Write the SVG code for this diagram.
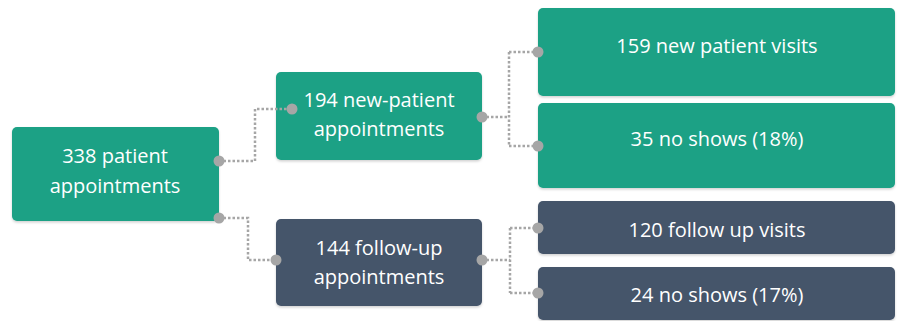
<svg xmlns="http://www.w3.org/2000/svg" width="899" height="321" viewBox="0 0 899 321">
<defs>
<filter id="sh" x="-5%" y="-5%" width="110%" height="115%">
<feDropShadow dx="0" dy="1.5" stdDeviation="1.2" flood-color="#000" flood-opacity="0.18"/>
</filter>
</defs>
<style>
.g{fill:#1ba185;filter:url(#sh)}
.d{fill:#44546a;filter:url(#sh)}
text{font-family:"Open Sans","Noto Sans",sans-serif;font-size:20px;fill:#ffffff;text-anchor:middle}
.c{fill:none;stroke:#a6a6a6;stroke-width:2.5;stroke-dasharray:2.5 2}
.p{fill:#a6a6a6}
</style>
<rect width="899" height="321" fill="#ffffff"/>
<g id="n1"><rect class="g" x="12" y="127" width="207" height="94" rx="5"/><text x="115" y="163">338 patient</text><text x="115" y="193">appointments</text></g>
<g id="n2"><rect class="g" x="276" y="72" width="206" height="88" rx="5"/><text x="379" y="107">194 new-patient</text><text x="379" y="136">appointments</text></g>
<g id="n3"><rect class="d" x="276" y="219" width="206" height="87" rx="5"/><text x="379" y="255">144 follow-up</text><text x="379" y="284">appointments</text></g>
<g id="n4"><rect class="g" x="538" y="8" width="357" height="88" rx="5"/><text x="717" y="53">159 new patient visits</text></g>
<g id="n5"><rect class="g" x="538" y="103" width="357" height="85" rx="5"/><text x="717" y="146">35 no shows (18%)</text></g>
<g id="n6"><rect class="d" x="538" y="201" width="357" height="53" rx="5"/><text x="717" y="237">120 follow up visits</text></g>
<g id="n7"><rect class="d" x="538" y="267" width="357" height="53" rx="5"/><text x="717" y="302">24 no shows (17%)</text></g>
<g id="connectors">
<path class="c" d="M219 161 H255 V109 H292"/>
<path class="c" d="M219 218 H248 V260 H276"/>
<path class="c" d="M482 117 H509 M509 52 V146 M509 52 H538 M509 146 H538"/>
<path class="c" d="M482 260 H510 M510 228 V293 M510 228 H538 M510 293 H538"/>
<circle class="p" cx="219" cy="161" r="5.5"/>
<circle class="p" cx="219" cy="218" r="5.5"/>
<circle class="p" cx="292" cy="109" r="5.5"/>
<circle class="p" cx="276" cy="260" r="5.5"/>
<circle class="p" cx="482" cy="117" r="5.5"/>
<circle class="p" cx="482" cy="260" r="5.5"/>
<circle class="p" cx="538" cy="52" r="5.5"/>
<circle class="p" cx="538" cy="146" r="5.5"/>
<circle class="p" cx="538" cy="228" r="5.5"/>
<circle class="p" cx="538" cy="293" r="5.5"/>
</g>
</svg>
